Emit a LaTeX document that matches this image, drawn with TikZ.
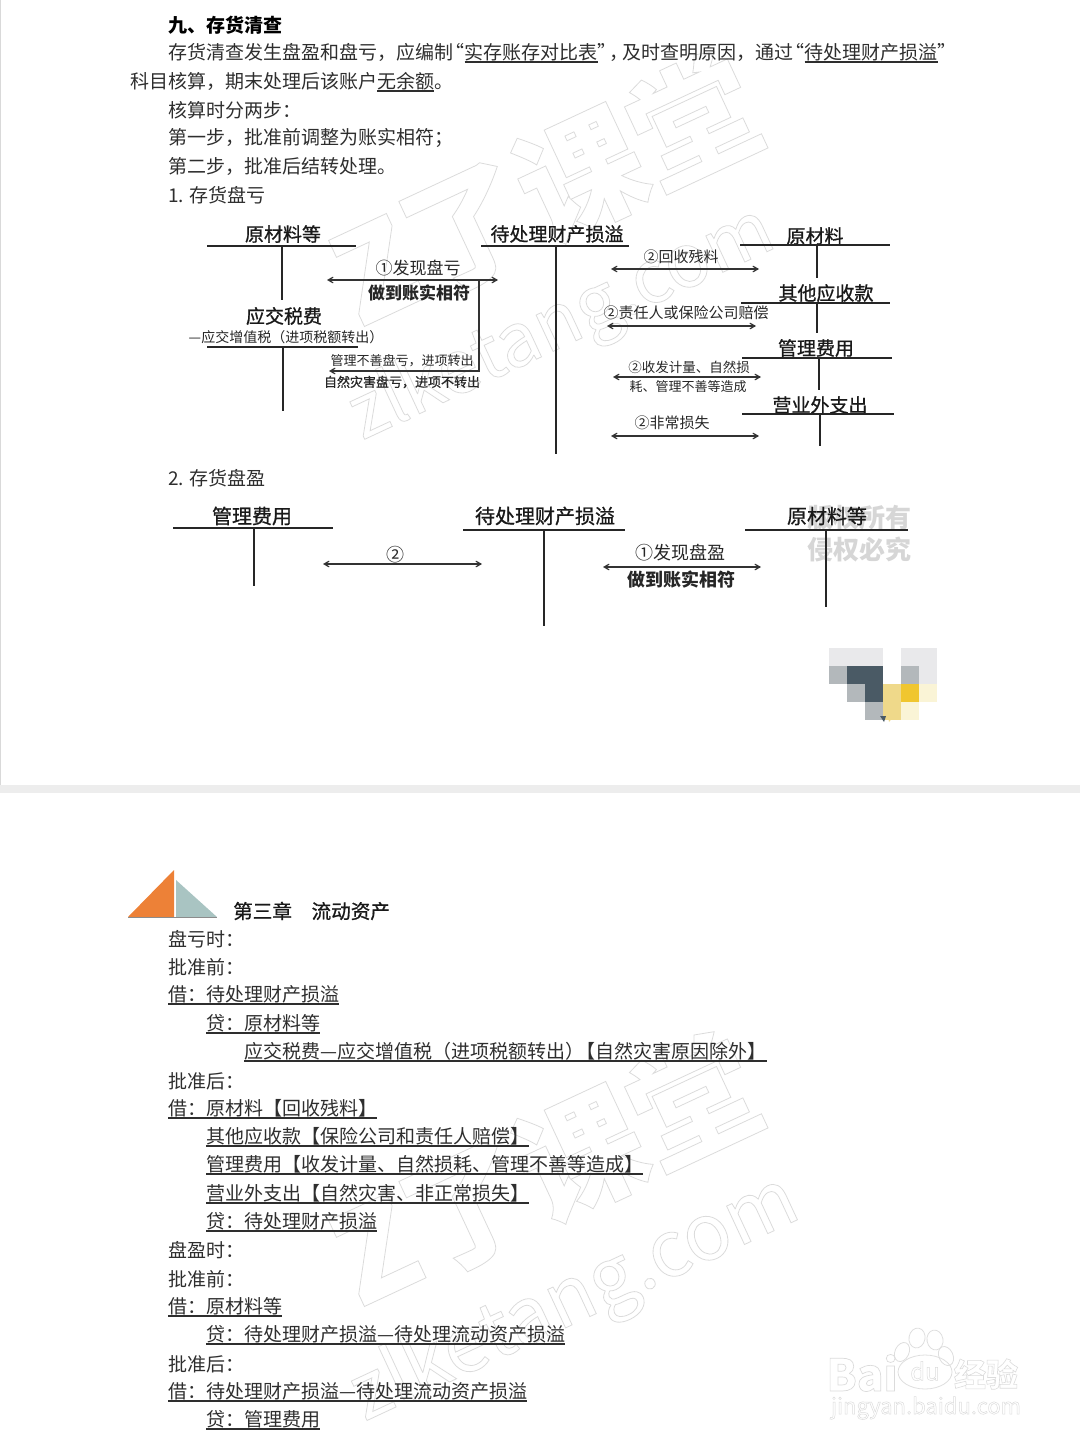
\documentclass[tikz,border=0pt]{standalone}
\usepackage{fontspec}
\setmainfont{Noto Sans CJK SC}
\newfontfamily\midfont[RawFeature={embolden=0.9}]{Noto Sans CJK SC}
\usetikzlibrary{arrows}
\definecolor{inkbody}{HTML}{2E2E2E}
\definecolor{tileA}{HTML}{E9E9EB}
\definecolor{tileB}{HTML}{B3B8BB}
\definecolor{tileC}{HTML}{4A5A65}
\definecolor{tileD}{HTML}{F0C62F}
\definecolor{tileE}{HTML}{EFD98A}
\definecolor{tileF}{HTML}{FAF4D6}
\definecolor{markA}{HTML}{ED8137}
\definecolor{markB}{HTML}{A9C4C2}
\newcommand{\acctline}[1]{\setbox0\hbox{#1}\rlap{\rule[-4pt]{\wd0}{1.8pt}}\box0}
\newcommand{\fs}[1]{\fontsize{#1}{#1}\selectfont}
\newcommand{\oq}{\hspace{-0.4em}“}
\newcommand{\cq}{”\hspace{-0.4em}}
\newcommand{\outl}[2]{\special{pdf:code 1 Tr #1 w 0.86 G}#2\special{pdf:code 0 Tr 1 w 0 G}}
\tikzset{bodyline/.style={anchor=west,inner sep=0pt,text=inkbody,font=\fs{19}}}
\tikzset{accttitle/.style={inner sep=0pt,text=black!90}}
\tikzset{acctbar/.style={line width=1.6pt,draw=black!85}}
\tikzset{acctstem/.style={line width=1.2pt,draw=black!85}}
\tikzset{flow/.style={line width=1.2pt,draw=black!80,>=angle 60}}
\tikzset{flowtext/.style={inner sep=0pt,text=black!85}}
\tikzset{wmarktext/.style={inner sep=0pt,rotate=25}}
\tikzset{pawline/.style={draw=black!13,line width=0.8pt}}
\begin{document}
\begin{tikzpicture}[x=1pt,y=-1pt]
    \useasboundingbox (0,0) rectangle (1080,1444);

    % watermarks
    \node[wmarktext,font=\bfseries\fs{125}] (wz1) at (545,190) {\outl{0.8}{Z了课堂}};
    \node[wmarktext,font=\fs{74}] (wu1) at (562,325) {\outl{0.8}{zlketang.com}};
    \node[wmarktext,font=\bfseries\fs{125}] (wz2) at (545,1170) {\outl{0.8}{Z了课堂}};
    \node[wmarktext,font=\fs{78}] (wu2) at (575,1300) {\outl{0.8}{zlketang.com}};
    \node[inner sep=0pt,text=black!16,font=\bfseries\fs{26}] (wr1) at (859,518) {版权所有};
    \node[inner sep=0pt,text=black!16,font=\bfseries\fs{26}] (wr2) at (859,550) {侵权必究};

    % page gap
    \fill[black!7] (0,785) rectangle (1080,793);
    \draw[black!15] (0.5,0) -- (0.5,785);

    % text lines
    \foreach \ly/\lx/\ltxt in {
        53/168/{存货清查发生盘盈和盘亏，应编制\oq\acctline{实存账存对比表}\cq，\hspace{-0.3em}及时查明原因，通过\oq\acctline{待处理财产损溢}\cq},
        82/130/{科目核算，期末处理后该账户\acctline{无余额}。},
        110/168/{核算时分两步：},
        138/168/{第一步，批准前调整为账实相符；},
        166/168/{第二步，批准后结转处理。},
        195/168/{1. 存货盘亏},
        478/168/{2. 存货盘盈},
        939/168/{盘亏时：},
        967/168/{批准前：},
        995/168/{\acctline{借：待处理财产损溢}},
        1024/206/{\acctline{贷：原材料等}},
        1052/244/{\acctline{应交税费—应交增值税（进项税额转出）\hspace{-0.4em}【自然灾害原因除外】}},
        1081/168/{批准后：},
        1109/168/{\acctline{借：原材料【回收残料】}},
        1137/206/{\acctline{其他应收款【保险公司和责任人赔偿】}},
        1165/206/{\acctline{管理费用【收发计量、自然损耗、管理不善等造成】}},
        1194/206/{\acctline{营业外支出【自然灾害、非正常损失】}},
        1222/206/{\acctline{贷：待处理财产损溢}},
        1250/168/{盘盈时：},
        1279/168/{批准前：},
        1307/168/{\acctline{借：原材料等}},
        1335/206/{\acctline{贷：待处理财产损溢—待处理流动资产损溢}},
        1364/168/{批准后：},
        1392/168/{\acctline{借：待处理财产损溢—待处理流动资产损溢}},
        1420/206/{\acctline{贷：管理费用}}}{%
        \node[bodyline] (ln\ly) at (\lx,\ly) {\ltxt};
    }
    \node[bodyline,text=black,font=\bfseries\fs{19}] (head) at (168,25) {九、存货清查};
    \node[bodyline,text=black!90,font=\midfont\fs{19.6}] (chap) at (233,911) {第三章\hspace{1em}流动资产};

    % T accounts
    \foreach \nm/\xa/\xb/\xs/\yb/\ye/\xt/\yt/\ts/\ttl in {
        ycl/207/356/282/246/300/283/234/19/原材料等,
        yjs/207/358/283/347/411/284/316/19/应交税费,
        dcl/481/629/556/246/454/557/234/19/待处理财产损溢,
        cl/740/890/817/245/278/815/236/19/原材料,
        qt/741/890/817/303/333/826/293/19/其他应收款,
        gl/742/892/819/358/390/816/348/19/管理费用,
        yy/742/894/820/414/446/820/405/19/营业外支出,
        glb/173/333/254/528/586/252/516/20/管理费用,
        dclb/463/625/544/530/626/545/516/20/待处理财产损溢,
        yclb/745/908/826/530/607/827/516/20/原材料等}{%
        \coordinate (\nm l) at (\xa,\yb);
        \coordinate (\nm r) at (\xb,\yb);
        \coordinate (\nm t) at (\xs,\yb);
        \coordinate (\nm b) at (\xs,\ye);
        \node[accttitle,font=\midfont\fs{\ts}] (\nm) at (\xt,\yt) {\ttl};
        \draw[acctbar] (\nm l) -- (\nm r);
        \draw[acctstem] (\nm t) -- (\nm b);
    }
    \node[flowtext,font=\fs{14}] (yjssub) at (286,337) {—应交增值税（进项税额转出）};

    % double arrows
    \foreach \an/\xa/\xb/\ya in {a1/327/498/280, a2/611/759/269, a3/607/756/326,
                                 a4/613/761/377, a5/611/759/436, a6/323/482/564, a7/603/761/567}{%
        \coordinate (\an l) at (\xa,\ya);
        \coordinate (\an r) at (\xb,\ya);
        \draw[flow,<->] (\an l) -- (\an r);
    }
    \coordinate (turn) at (479,280);
    \coordinate (corner) at (479,371);
    \coordinate (vat) at (329,371);
    \draw[flow,->] (turn) -- (corner) -- (vat);

    % labels
    \foreach \tn/\tx/\ty/\ts/\ttxt in {
        t1/418/268/17/①发现盘亏,
        t2/419/293/17/{\bfseries 做到账实相符},
        t3/402/361/13/管理不善盘亏，进项转出,
        t4/402/382/13/{\midfont 自然灾害盘亏，进项不转出},
        t5/681/257/15/②回收残料,
        t6/686/313/15/②责任人或保险公司赔偿,
        t7/689/367/13.5/②收发计量、自然损,
        t8/688/387/13/耗、管理不善等造成,
        t9/672/423/15/②非常损失,
        t10/395/555/18/②,
        t11/680/553/18/①发现盘盈,
        t12/681/580/18/{\bfseries 做到账实相符}}{%
        \node[flowtext,font=\fs{\ts}] (\tn) at (\tx,\ty) {\ttxt};
    }

    % chapter mark
    \fill[markA] (128,917) -- (174,870) -- (174,917) -- cycle;
    \fill[markB] (176,880) -- (217,917) -- (176,917) -- cycle;
    \draw[black!45,line width=1pt] (128,917.5) -- (217,917.5);

    % blurred corner picture
    \foreach \cx/\cy/\cc in {829/648/tileA,847/648/tileA,865/648/tileA,901/648/tileA,919/648/tileA,
                             829/666/tileB,847/666/tileC,865/666/tileC,901/666/tileB,919/666/tileA,
                             847/684/tileB,865/684/tileC,883/684/tileE,901/684/tileD,919/684/tileF,
                             865/702/tileB,883/702/tileE,901/702/tileF}{%
        \fill[\cc] (\cx,\cy) rectangle ++(18,18);
    }
    \fill[tileC] (880,716) -- (886,716) -- (884,722) -- cycle;
    \fill[tileE] (888,716) -- (894,716) -- (889,722) -- cycle;

    % baidu mark
    \node[inner sep=0pt,font=\bfseries\fs{44}] (bai) at (862,1373) {\outl{0.7}{Bai}};
    \node[inner sep=0pt,font=\bfseries\fs{32}] (jy) at (986,1374) {\outl{0.6}{经验}};
    \node[inner sep=0pt,font=\fs{22}] (bdurl) at (926,1408) {\outl{0.5}{jingyan.baidu.com}};
    \foreach \px/\py/\pa/\pb/\pr in {902/1352/7/10/-25, 917/1338/8/10/-10, 935/1340/8/10/10, 946/1356/7/10/25}{%
        \draw[pawline] (\px,\py) ellipse [x radius=\pa,y radius=\pb,rotate=\pr];
    }
    \draw[pawline] (925,1372) ellipse [x radius=27,y radius=17];
    \node[inner sep=0pt,font=\fs{24}] (du) at (925,1371) {\outl{0.5}{du}};
\end{tikzpicture}
\end{document}
